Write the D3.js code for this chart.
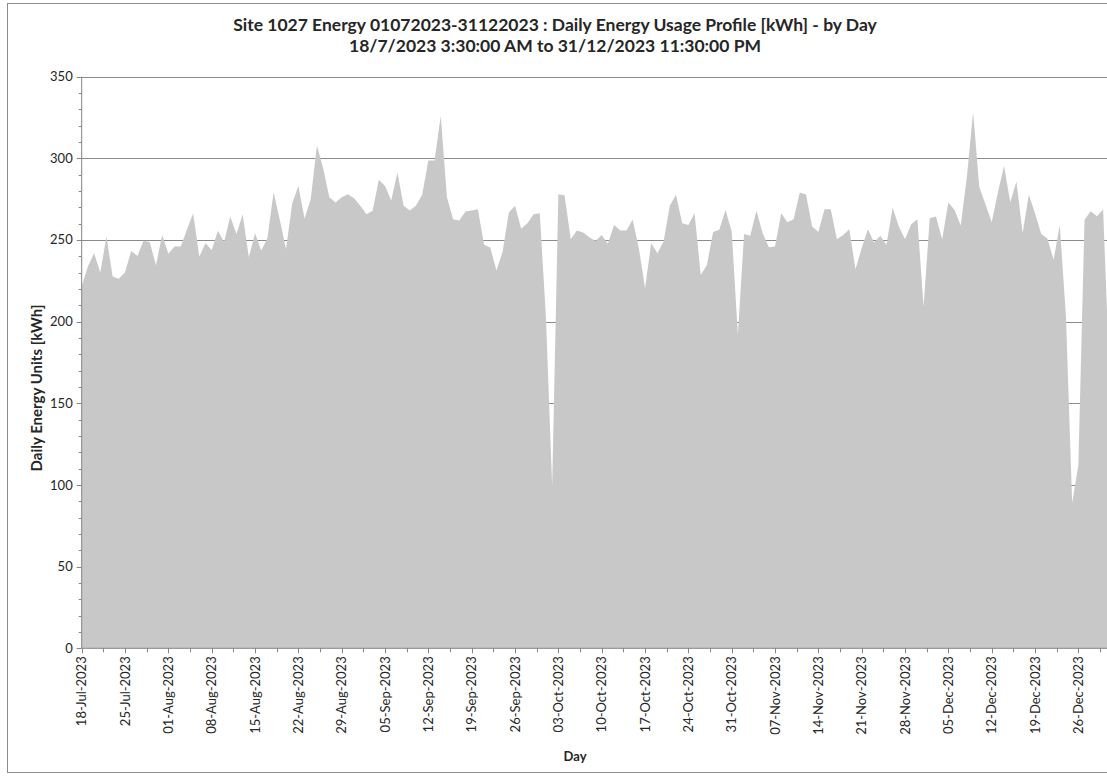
<!DOCTYPE html>
<html>
<head>
<meta charset="utf-8">
<script src="https://cdn.jsdelivr.net/npm/d3@7"></script>
<style>
    body { margin: 0; background: #fff; }
    svg { display: block; font-family: Lato, Carlito, Calibri, sans-serif; }
</style>
</head>
<body>
<div id="chart"></div>
<script>
// daily usage, one value per day starting 18-Jul-2023
const START_DATE = "2023-07-18";
const dailyKwh = [
    221.5, 233.7, 241.9, 230.0, 252.0, 227.6, 226.2, 230.2, 243.3, 240.2,
    249.6, 248.6, 234.5, 253.1, 241.5, 246.0, 246.0, 256.2, 266.4, 239.8,
    248.0, 243.9, 255.6, 248.8, 264.3, 253.7, 265.7, 239.4, 254.1, 243.5,
    251.0, 279.2, 262.3, 244.3, 272.1, 283.1, 263.1, 274.9, 307.8, 293.9,
    276.2, 272.9, 276.2, 278.0, 275.6, 270.9, 265.8, 267.8, 286.8, 283.1,
    274.1, 291.3, 270.9, 268.0, 270.9, 277.6, 298.6, 298.6, 326.0, 276.2,
    262.7, 261.9, 267.4, 268.0, 268.8, 247.0, 245.3, 231.3, 242.9, 266.8,
    270.9, 256.8, 260.2, 265.8, 266.4, 202.0, 99.0, 278.0, 277.4, 250.4,
    255.8, 254.5, 251.7, 249.4, 253.1, 247.6, 259.2, 255.8, 255.8, 262.3,
    245.0, 220.4, 248.0, 241.9, 249.0, 270.9, 277.6, 260.2, 259.2, 266.4,
    228.6, 234.7, 254.9, 256.2, 268.4, 255.1, 191.9, 253.7, 252.5, 267.8,
    254.1, 245.6, 246.0, 266.4, 260.9, 262.7, 279.0, 277.8, 258.2, 254.9,
    268.8, 268.8, 250.4, 253.1, 256.6, 232.0, 244.9, 256.6, 248.4, 252.5,
    247.0, 269.8, 258.2, 250.4, 259.6, 262.7, 209.2, 263.3, 264.3, 250.4,
    272.9, 268.4, 258.8, 288.8, 328.2, 282.3, 271.9, 260.9, 279.0, 295.3,
    273.1, 285.8, 254.1, 277.6, 266.4, 253.7, 250.9, 237.8, 259.0, 203.0,
    89.0, 112.0, 262.3, 267.5, 264.5, 268.6, 170.0
];
const yTicks = [0, 50, 100, 150, 200, 250, 300, 350];

const titleLines = [
    "Site 1027 Energy 01072023-31122023 : Daily Energy Usage Profile [kWh] - by Day",
    "18/7/2023 3:30:00 AM to 31/12/2023 11:30:00 PM"
];
const yLabel = "Daily Energy Units [kWh]";
const xLabel = "Day";

const width = 1107, height = 776;
// plot box; the right end runs a little past the picture edge
const plot = {left: 81.7, right: 1109.3, top: 76.6, bottom: 648.3};

const parseDate = d3.timeParse("%Y-%m-%d");
const fmt = d3.timeFormat("%d-%b-%Y");
const start = parseDate(START_DATE);
const data = dailyKwh.map((v, i) => ({date: d3.timeDay.offset(start, i), kwh: v}));
const end = data[data.length - 1].date;

const svg = d3.select("#chart").append("svg")
    .attr("width", width)
    .attr("height", height);

// outer chart border
svg.append("rect")
    .attr("x", 7.5).attr("y", 3.5)
    .attr("width", width + 10).attr("height", 769)
    .attr("fill", "none")
    .attr("stroke", "#8c8c8c");

const x = d3.scaleTime().domain([start, end]).range([plot.left, plot.right]);
const y = d3.scaleLinear().domain([0, 350]).range([plot.bottom, plot.top]);

// gridlines first so the area covers them
svg.append("g")
    .selectAll("line")
    .data(yTicks.filter(t => t > 0))
    .join("line")
    .attr("x1", plot.left).attr("x2", plot.right)
    .attr("y1", d => Math.round(y(d)) + 0.5).attr("y2", d => Math.round(y(d)) + 0.5)
    .attr("stroke", "#8c8c8c");

const area = d3.area()
    .x(d => x(d.date))
    .y0(y(0))
    .y1(d => y(d.kwh));

svg.append("path")
    .datum(data)
    .attr("fill", "#c8c8c8")
    .attr("d", area);

// y axis
const yMinor = d3.range(0, 351, 10);
const yAxis = svg.append("g");
yAxis.append("line")
    .attr("x1", plot.left).attr("x2", plot.left)
    .attr("y1", plot.top).attr("y2", plot.bottom)
    .attr("stroke", "#868686");
yAxis.selectAll("line.minor")
    .data(yMinor)
    .join("line")
    .attr("class", "minor")
    .attr("x1", d => yTicks.includes(d) ? plot.left - 5 : plot.left - 3)
    .attr("x2", plot.left)
    .attr("y1", d => Math.round(y(d)) + 0.5).attr("y2", d => Math.round(y(d)) + 0.5)
    .attr("stroke", "#868686");
yAxis.selectAll("text")
    .data(yTicks)
    .join("text")
    .attr("x", plot.left - 9)
    .attr("y", d => y(d))
    .attr("dy", "0.35em")
    .attr("text-anchor", "end")
    .attr("font-size", 13)
    .attr("fill", "#262626")
    .text(d => d);

// x axis, major tick every week, minor every half week
const xMajor = d3.timeDay.range(start, d3.timeDay.offset(end, 1), 7);
const xMinor = d3.range(0, 48).map(i => d3.timeHour.offset(start, 84 * i)).filter(d => d <= end);
const xAxis = svg.append("g");
xAxis.append("line")
    .attr("x1", plot.left).attr("x2", plot.right)
    .attr("y1", plot.bottom).attr("y2", plot.bottom)
    .attr("stroke", "#868686");
xAxis.selectAll("line.tick")
    .data(xMinor)
    .join("line")
    .attr("class", "tick")
    .attr("x1", d => Math.round(x(d)) + 0.5).attr("x2", d => Math.round(x(d)) + 0.5)
    .attr("y1", plot.bottom)
    .attr("y2", (d, i) => i % 2 === 0 ? plot.bottom + 5 : plot.bottom + 4)
    .attr("stroke", "#868686");
xAxis.selectAll("text")
    .data(xMajor)
    .join("text")
    .attr("transform", d => `translate(${x(d)},${plot.bottom + 8}) rotate(-90)`)
    .attr("dy", "0.35em")
    .attr("text-anchor", "end")
    .attr("font-size", 13)
    .attr("fill", "#262626")
    .text(d => fmt(d));

// titles
svg.selectAll("text.title")
    .data(titleLines)
    .join("text")
    .attr("class", "title")
    .attr("x", 555)
    .attr("y", (d, i) => 31 + i * 21)
    .attr("text-anchor", "middle")
    .attr("font-size", 17.5)
    .attr("font-weight", "bold")
    .attr("fill", "#262626")
    .text(d => d);

svg.append("text")
    .attr("transform", "translate(42,388) rotate(-90)")
    .attr("text-anchor", "middle")
    .attr("font-size", 15)
    .attr("font-weight", "bold")
    .attr("fill", "#262626")
    .text(yLabel);

svg.append("text")
    .attr("x", 575)
    .attr("y", 761)
    .attr("text-anchor", "middle")
    .attr("font-size", 13)
    .attr("font-weight", "bold")
    .attr("fill", "#262626")
    .text(xLabel);
</script>
</body>
</html>
